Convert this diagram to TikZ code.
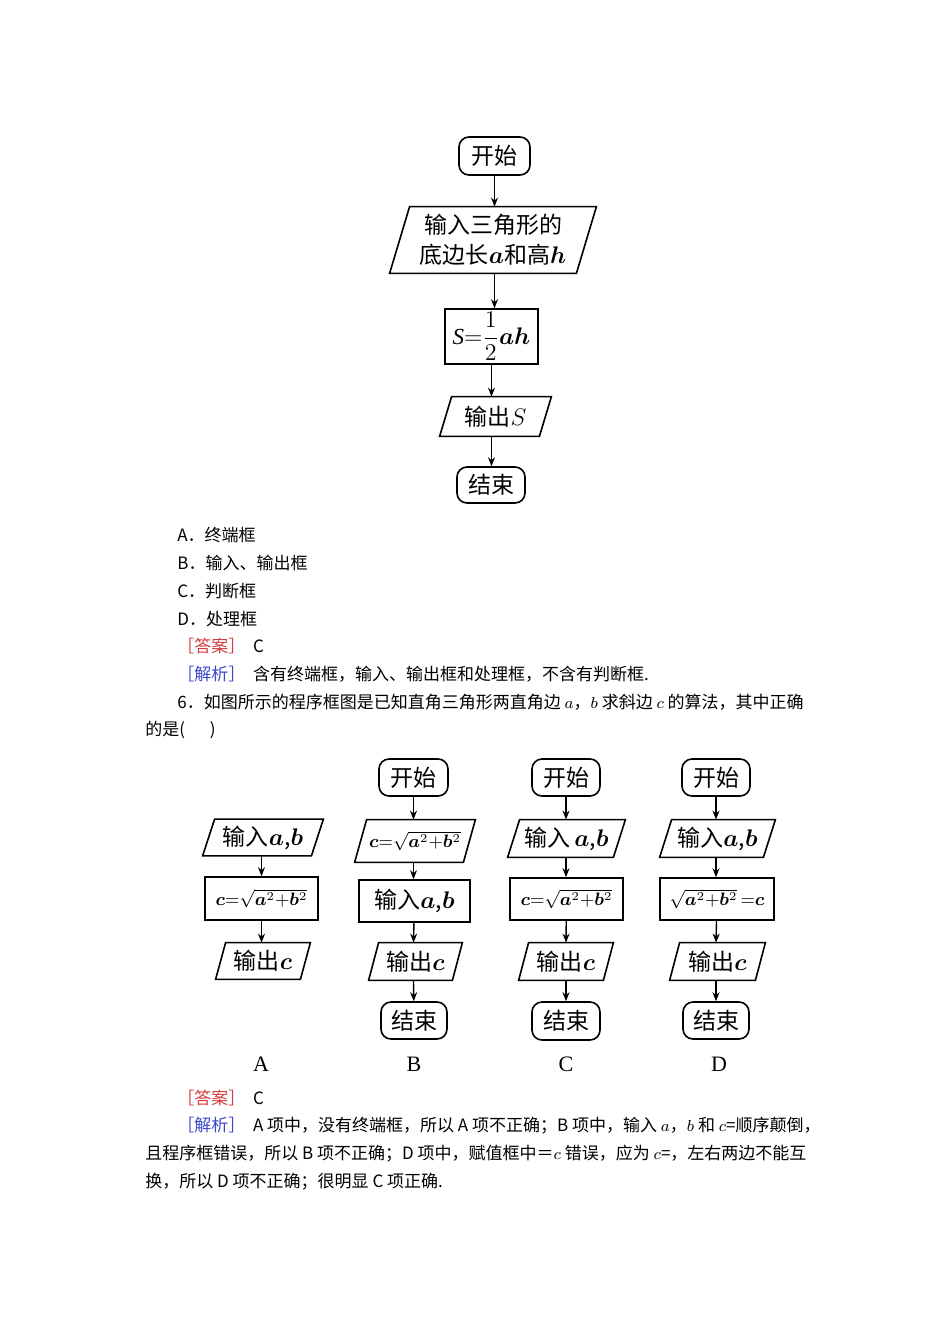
\documentclass[tikz,border=0pt]{standalone}
\usepackage{fontspec}
\usepackage{amsmath,bm}
\setmainfont{Liberation Serif}
\newfontfamily\cjk{Noto Sans CJK SC}
\usetikzlibrary{arrows.meta}
\newcommand\mypara[2]{\draw[line width=0.8pt] ([xshift=#2]#1.north west) -- (#1.north east) -- ([xshift=-#2]#1.south east) -- (#1.south west) -- cycle;}
\newcommand\bv[1]{\bm{#1}}
\newcommand\sq[1]{{\fontsize{9}{10}\selectfont$#1$}}
\tikzset{
 term/.style={draw,line width=0.8pt,rounded corners=5pt,inner sep=0pt,font=\cjk\fontsize{11.5}{12}\selectfont},
 proc/.style={draw,line width=0.8pt,inner sep=0pt,font=\cjk\fontsize{11.5}{12}\selectfont},
 io/.style={inner sep=0pt,font=\cjk\fontsize{11.5}{12}\selectfont},
 arr/.style={-{Stealth[length=4.5pt,width=3.5pt]},line width=0.7pt},
 txt/.style={anchor=west,inner sep=0pt,font=\cjk\fontsize{8.5}{9}\selectfont},
 lbl/.style={inner sep=0pt,font=\fontsize{11}{12}\selectfont}
}
\begin{document}
\begin{tikzpicture}[x=0.5pt,y=-0.5pt]
\useasboundingbox (0,0) rectangle (950,1344);
% top chart
\node[term,minimum width=35.5pt,minimum height=19pt] (t0) at (494.5,156) {开始};
\node[io,minimum width=103pt,minimum height=33pt,align=center] (t1) at (493,240) {输入三角形的\\[3pt]底边长$\bv{a}$和高$\bv{h}$};
\mypara{t1}{10pt}
\node[proc,minimum width=46.5pt,minimum height=27.5pt] (t2) at (491.5,336.5) {$\mathit{S}{=}\dfrac{1}{2}\bv{a}\bv{h}$};
\node[io,minimum width=55.5pt,minimum height=19.5pt] (t3) at (495.5,416.5) {输出$S$};
\mypara{t3}{6pt}
\node[term,minimum width=34pt,minimum height=18pt] (t4) at (491,485) {结束};
\draw[arr] (t0) -- (t0|-t1.north);
\draw[arr] (t1.south-|t0) -- (t0|-t2.north);
\draw[arr] (t2) -- (t2|-t3.north);
\draw[arr] (t2|-t3.south) -- (t2|-t4.north);
% options
\node[txt] (oa) at (177,535) {A．终端框};
\node[txt] (ob) at (177,563) {B．输入、输出框};
\node[txt] (oc) at (177,591) {C．判断框};
\node[txt] (od) at (177,619) {D．处理框};
\node[txt] (ans1) at (177,646) {\textcolor[RGB]{210,60,60}{［答案］}\ \ C};
\node[txt] (ex1) at (177,674) {\textcolor[RGB]{60,70,200}{［解析］}\ \ 含有终端框，输入、输出框和处理框，不含有判断框.};
\node[txt] (q6) at (177,702) {6．如图所示的程序框图是已知直角三角形两直角边 $a$，$b$ 求斜边 $c$ 的算法，其中正确};
\node[txt] (q6b) at (145,730) {的是(\quad\ \ )};
% chart A
\node[io,minimum width=60pt,minimum height=18pt] (a1) at (263,837.5) {输入$\bv{a}$,$\bv{b}$};
\mypara{a1}{6pt}
\node[proc,minimum width=56.5pt,minimum height=21.5pt] (a2) at (261.5,898.5) {\sq{\bv{c}{=}\sqrt{\bv{a}^2{+}\bv{b}^2}}};
\node[io,minimum width=47pt,minimum height=18pt] (a3) at (263,961) {输出$\bv{c}$};
\mypara{a3}{5pt}
\draw[arr] (a1.south-|a2) -- (a2);
\draw[arr] (a2) -- (a3.north-|a2);
% chart B
\node[term,minimum width=34.5pt,minimum height=18.5pt] (b0) at (413.5,777.5) {开始};
\node[io,minimum width=60pt,minimum height=21pt] (b1) at (415,841) {\sq{\bv{c}{=}\sqrt{\bv{a}^2{+}\bv{b}^2}}};
\mypara{b1}{6pt}
\node[proc,minimum width=55.5pt,minimum height=21pt] (b2) at (414.5,901) {输入$\bv{a}$,$\bv{b}$};
\node[io,minimum width=46.5pt,minimum height=18.5pt] (b3) at (415.5,961.5) {输出$\bv{c}$};
\mypara{b3}{5pt}
\node[term,minimum width=33pt,minimum height=18.5pt] (b4) at (414,1020.5) {结束};
\draw[arr] (b0) -- (b0|-b1.north);
\draw[arr] (b1.south-|b0) -- (b0|-b2.north);
\draw[arr] (b2) -- (b0|-b3.north);
\draw[arr] (b0|-b3.south) -- (b4);
% chart C
\node[term,minimum width=34pt,minimum height=18.5pt] (c0) at (566,777.5) {开始};
\node[io,minimum width=58.5pt,minimum height=18.5pt] (c1) at (566.5,838.5) {输入$\,\bv{a}$,$\bv{b}$};
\mypara{c1}{6pt}
\node[proc,minimum width=56.5pt,minimum height=21pt] (c2) at (566.5,899) {\sq{\bv{c}{=}\sqrt{\bv{a}^2{+}\bv{b}^2}}};
\node[io,minimum width=47pt,minimum height=18.5pt] (c3) at (566,961.5) {输出$\bv{c}$};
\mypara{c3}{5pt}
\node[term,minimum width=34pt,minimum height=19pt] (c4) at (566,1021) {结束};
\draw[arr] (c0) -- (c0|-c1.north);
\draw[arr] (c1.south-|c0) -- (c0|-c2.north);
\draw[arr] (c2) -- (c0|-c3.north);
\draw[arr] (c0|-c3.south) -- (c4);
% chart D
\node[term,minimum width=34pt,minimum height=18.5pt] (d0) at (716,777.5) {开始};
\node[io,minimum width=57.5pt,minimum height=18.5pt] (d1) at (717.5,838.5) {输入$\bv{a}$,$\bv{b}$};
\mypara{d1}{6pt}
\node[proc,minimum width=57pt,minimum height=21pt] (d2) at (717,899) {\sq{\sqrt{\bv{a}^2{+}\bv{b}^2}\,{=}\bv{c}}};
\node[io,minimum width=47.5pt,minimum height=18.5pt] (d3) at (717.5,961.5) {输出$\bv{c}$};
\mypara{d3}{5pt}
\node[term,minimum width=33pt,minimum height=18.5pt] (d4) at (716,1020.5) {结束};
\draw[arr] (d0) -- (d0|-d1.north);
\draw[arr] (d1.south-|d0) -- (d0|-d2.north);
\draw[arr] (d2) -- (d0|-d3.north);
\draw[arr] (d0|-d3.south) -- (d4);
\node[lbl] (la) at (261,1064) {A};
\node[lbl] (lb) at (414,1064) {B};
\node[lbl] (lc) at (566,1064) {C};
\node[lbl] (ld) at (719,1064) {D};
% answer
\node[txt] (ans2) at (177,1098) {\textcolor[RGB]{210,60,60}{［答案］}\ \ C};
\node[txt] (ex2) at (177,1126) {\textcolor[RGB]{60,70,200}{［解析］}\ \ A 项中，没有终端框，所以 A 项不正确；B 项中，输入 $a$，$b$ 和 $c$=顺序颠倒，};
\node[txt] (ex3) at (145,1154) {且程序框错误，所以 B 项不正确；D 项中，赋值框中＝$c$ 错误，应为 $c$=，左右两边不能互};
\node[txt] (ex4) at (145,1182) {换，所以 D 项不正确；很明显 C 项正确.};
\end{tikzpicture}
\end{document}
